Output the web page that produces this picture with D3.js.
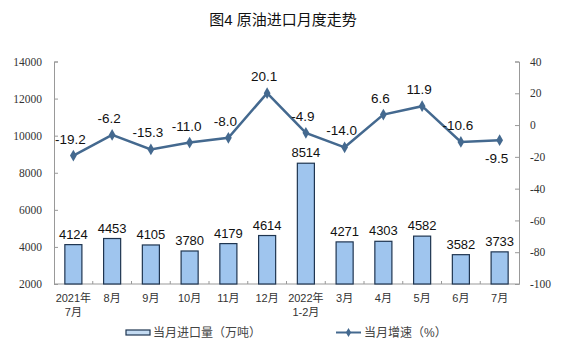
<!DOCTYPE html>
<html>
<head>
<meta charset="utf-8">
<script src="https://cdn.jsdelivr.net/npm/d3@7"></script>
<style>
  body { margin: 0; background: #fff; }
  svg { display: block; }
</style>
</head>
<body>
<svg id="chart" width="566" height="362"></svg>
<script>
  // categories (lines split with |)
  var months = ['2021年|7月', '8月', '9月', '10月', '11月', '12月', '2022年|1-2月', '3月', '4月', '5月', '6月', '7月'];
  // monthly import, 10k tonnes
  var imports = [4124, 4453, 4105, 3780, 4179, 4614, 8514, 4271, 4303, 4582, 3582, 3733];
  // year on year growth, %
  var growth = [-19.2, -6.2, -15.3, -11.0, -8.0, 20.1, -4.9, -14.0, 6.6, 11.9, -10.6, -9.5];
  var leftTicks = [2000, 4000, 6000, 8000, 10000, 12000, 14000];
  var rightTicks = [-100, -80, -60, -40, -20, 0, 20, 40];

  var cjk = '"Liberation Sans", "Noto Sans CJK SC", sans-serif';
  var tickFont = '"Liberation Serif", "Noto Sans CJK SC", serif';
  var lineColor = '#44698f';

  var svg = d3.select('#chart');
  var margin = { left: 54, right: 47, top: 61.5, bottom: 78 };
  var W = 566, H = 362;

  var x = d3.scaleBand().domain(d3.range(months.length))
            .range([margin.left, W - margin.right]).paddingInner(0.56).paddingOuter(0.28);
  var yL = d3.scaleLinear().domain([2000, 14000]).range([H - margin.bottom, margin.top]);
  var yR = d3.scaleLinear().domain([-100, 40]).range([H - margin.bottom, margin.top]);

  svg.append('text')
    .attr('x', 283).attr('y', 25)
    .attr('text-anchor', 'middle')
    .style('font-family', cjk).style('font-size', '15px').style('fill', '#111')
    .text('图4  原油进口月度走势');

  // axes
  var axisL = svg.append('g').attr('transform', 'translate(' + margin.left + ',0)')
    .call(d3.axisRight(yL).tickValues(leftTicks).tickSize(4).tickFormat(String));
  axisL.selectAll('text').attr('x', -12).style('text-anchor', 'end');

  var axisR = svg.append('g').attr('transform', 'translate(' + (W - margin.right) + ',0)')
    .call(d3.axisLeft(yR).tickValues(rightTicks).tickSize(4).tickFormat(String));
  axisR.selectAll('text').attr('x', 11).style('text-anchor', 'start');

  [axisL, axisR].forEach(function (a) {
    a.select('.domain').attr('stroke', '#999');
    a.selectAll('line').attr('stroke', '#999');
    a.selectAll('text').style('font-family', tickFont).style('font-size', '11.5px').style('fill', '#333');
  });

  var step = x.step();
  var base = H - margin.bottom;
  var xAxis = svg.append('g');
  xAxis.append('line')
    .attr('x1', margin.left).attr('x2', W - margin.right)
    .attr('y1', base).attr('y2', base).attr('stroke', '#999');
  xAxis.selectAll('.tk').data(d3.range(1, months.length))
    .enter().append('line')
    .attr('x1', function (i) { return x(i) - x.paddingInner() * step / 2; })
    .attr('x2', function (i) { return x(i) - x.paddingInner() * step / 2; })
    .attr('y1', base).attr('y2', base - 3).attr('stroke', '#999');

  var lbl = xAxis.selectAll('.lbl').data(months).enter().append('text')
    .attr('text-anchor', 'middle')
    .style('font-family', cjk).style('font-size', '11px').style('fill', '#333');
  lbl.each(function (d, i) {
    var t = d3.select(this);
    d.split('|').forEach(function (part, k) {
      t.append('tspan')
        .attr('x', x(i) + x.bandwidth() / 2)
        .attr('y', base + 18 + k * 14)
        .text(part);
    });
  });

  // bars
  svg.selectAll('.bar').data(imports).enter().append('rect')
    .attr('x', function (d, i) { return x(i); })
    .attr('width', x.bandwidth())
    .attr('y', function (d) { return yL(d); })
    .attr('height', function (d) { return base - yL(d); })
    .attr('fill', '#9fc5ee').attr('stroke', '#1f3550').attr('stroke-width', 1.2);

  svg.selectAll('.barlbl').data(imports).enter().append('text')
    .attr('x', function (d, i) { return x(i) + x.bandwidth() / 2; })
    .attr('y', function (d) { return yL(d) - 6; })
    .attr('text-anchor', 'middle')
    .style('font-family', cjk).style('font-size', '13px').style('fill', '#111')
    .text(function (d) { return d; });

  // line
  var cx = function (d, i) { return x(i) + x.bandwidth() / 2; };
  svg.append('path').datum(growth)
    .attr('fill', 'none').attr('stroke', lineColor).attr('stroke-width', 2.5)
    .attr('d', d3.line().x(cx).y(function (d) { return yR(d); }));

  var diamond = d3.symbol().type(d3.symbolDiamond).size(40);
  svg.selectAll('.pt').data(growth).enter().append('path')
    .attr('transform', function (d, i) { return 'translate(' + cx(d, i) + ',' + yR(d) + ')'; })
    .attr('d', diamond).attr('fill', lineColor);

  svg.selectAll('.ptlbl').data(growth).enter().append('text')
    .attr('x', function (d, i) { return cx(d, i) - 3; })
    .attr('y', function (d, i) { return i === growth.length - 1 ? yR(d) + 23 : yR(d) - 12; })
    .attr('text-anchor', 'middle')
    .style('font-family', cjk).style('font-size', '13.5px').style('fill', '#111')
    .text(function (d) { return d.toFixed(1); });

  // legend
  var lg = svg.append('g').style('font-family', cjk).style('font-size', '12px').style('fill', '#444');
  lg.append('rect').attr('x', 126).attr('y', 330).attr('width', 24).attr('height', 5)
    .attr('fill', '#c4dbf2').attr('stroke', '#1f3550').attr('stroke-width', 1.2);
  lg.append('text').attr('x', 153).attr('y', 337).text('当月进口量（万吨）');
  lg.append('line').attr('x1', 336).attr('x2', 361).attr('y1', 332.5).attr('y2', 332.5)
    .attr('stroke', lineColor).attr('stroke-width', 2);
  lg.append('path').attr('transform', 'translate(348.5,332.5)')
    .attr('d', d3.symbol().type(d3.symbolDiamond).size(24)).attr('fill', lineColor);
  lg.append('text').attr('x', 364).attr('y', 337).text('当月增速（%）');
</script>
</body>
</html>
